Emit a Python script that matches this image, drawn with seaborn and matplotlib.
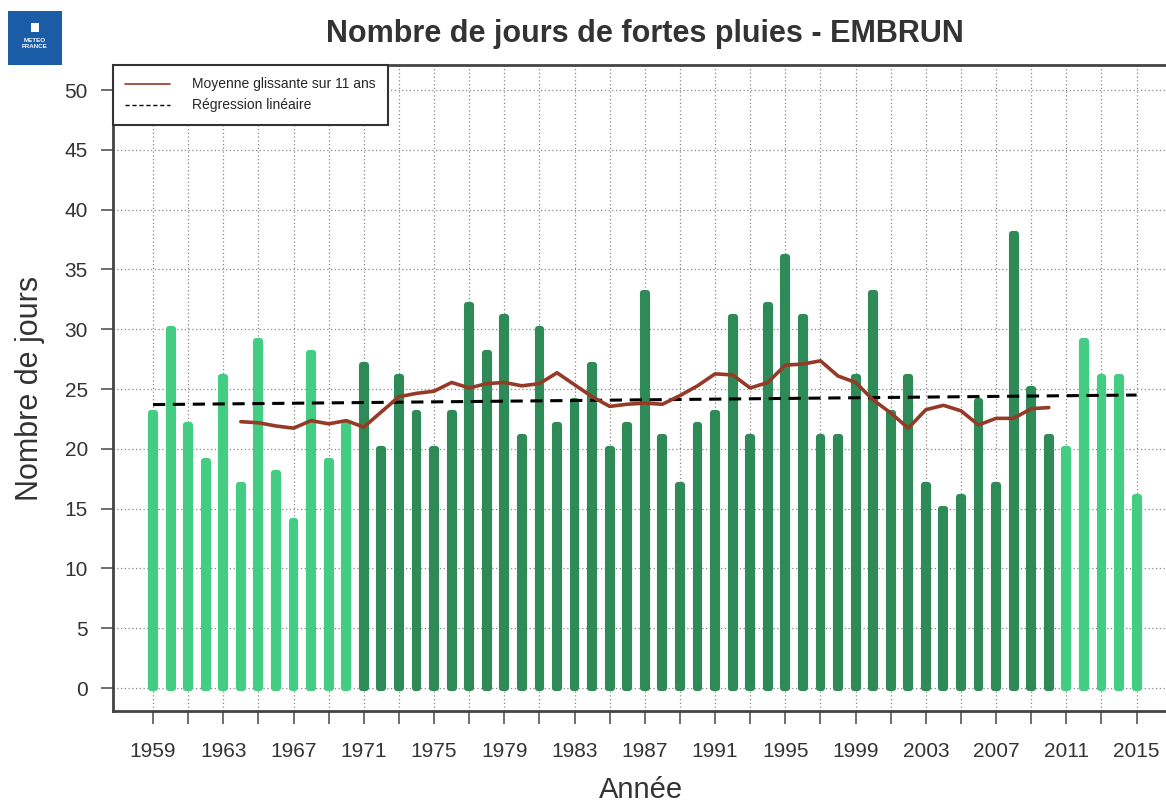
import matplotlib
matplotlib.use("Agg")
import matplotlib.pyplot as plt
from matplotlib.lines import Line2D
from matplotlib.patches import Rectangle
import seaborn as sns
import pandas as pd

# data
years = list(range(1959, 2016))
days = [23, 30, 22, 19, 26, 17, 29, 18, 14, 28, 19, 22,
        27, 20, 26, 23, 20, 23, 32, 28, 31, 21, 30, 22, 24, 27, 20, 22,
        33, 21, 17, 22, 23, 31, 21, 32, 36, 31, 21, 21, 26, 33, 23, 26,
        17, 15, 16, 24, 17, 38, 25, 21,
        20, 29, 26, 26, 16]
period = ["hors normale"] * 12 + ["normale"] * 40 + ["hors normale"] * 5
ma_years = list(range(1964, 2011))
ma_values = [22.27, 22.18, 21.91, 21.73, 22.36, 22.09, 22.36, 21.82, 23.09, 24.36,
             24.64, 24.82, 25.55, 25.09, 25.45, 25.55, 25.27, 25.45, 26.36, 25.36,
             24.36, 23.55, 23.73, 23.82, 23.73, 24.45, 25.27, 26.27, 26.18, 25.09,
             25.55, 27.0, 27.09, 27.36, 26.09, 25.55, 24.09, 23.0, 21.73, 23.27,
             23.64, 23.18, 22.0, 22.55, 22.55, 23.36, 23.45]
reg_years = [1959, 2015]
reg_values = [23.7, 24.5]

light_green = "#43cd82"
dark_green = "#2e8b57"
ma_color = "#963a28"
txt = "#333333"

sns.set_style("white")
plt.rcParams['font.family'] = ['Liberation Sans', 'DejaVu Sans']

df = pd.DataFrame({"year": years, "days": days, "period": period})

fig = plt.figure(figsize=(11.66, 8.06), dpi=100)
ax = fig.add_axes([0.0969, 0.1179, 0.905, 0.8015])

sns.barplot(data=df, x="year", y="days", hue="period", native_scale=True,
            palette={"hors normale": light_green, "normale": dark_green},
            saturation=1, dodge=False, width=0.22, legend=False, ax=ax, zorder=3)
# thick round edges to mimic R's rounded "h" bars
for p in ax.patches:
    p.set_edgecolor(p.get_facecolor())
    p.set_linewidth(4.4)
    p.set_joinstyle("round")

sns.lineplot(x=reg_years, y=reg_values, color="black", lw=2.2,
             linestyle=(0, (4, 2.5)), ax=ax, zorder=4)
sns.lineplot(x=ma_years, y=ma_values, color=ma_color, lw=2.6, ax=ax, zorder=5)

ax.set_xlim(1956.72, 2016.8)
ax.set_ylim(-1.92, 52.1)
ax.set_yticks(range(0, 51, 5))
ax.set_xticks(range(1959, 2016, 2))
ax.set_xticklabels([str(y) if (y - 1959) % 4 == 0 else "" for y in range(1959, 2016, 2)])
ax.grid(True, color="#888888", linestyle=(0, (1, 2)), linewidth=0.9, zorder=0)
ax.set_axisbelow(True)
ax.tick_params(axis="both", bottom=True, left=True, colors="#555555", labelcolor=txt,
               labelsize=15, length=9, width=1.2, direction="out", pad=9)
ax.tick_params(axis="x", pad=13)
for side in ["left", "bottom", "top"]:
    ax.spines[side].set_color("#444444")
    ax.spines[side].set_linewidth(2)
ax.spines["right"].set_visible(False)

ax.set_xlabel("Année", fontsize=21, color=txt, labelpad=11)
ax.set_ylabel("Nombre de jours", fontsize=22, color=txt, labelpad=14)
fig.suptitle("Nombre de jours de fortes pluies - EMBRUN", x=0.553, y=0.977,
             fontsize=22, fontweight="bold", color=txt)

handles = [Line2D([], [], color=ma_color, lw=1.2),
           Line2D([], [], color="black", lw=1.0, linestyle=(0, (3, 2)))]
leg = ax.legend(handles, ["Moyenne glissante sur 11 ans", "Régression linéaire"],
                loc="upper left", borderaxespad=0, fontsize=10, fancybox=False,
                framealpha=1, edgecolor="#333333", handlelength=3.2,
                borderpad=0.9, labelspacing=0.5, handletextpad=1.6)
leg.get_frame().set_linewidth(1.5)
leg.set_zorder(10)

# Meteo France logo
lax = fig.add_axes([8 / 1166, 1 - 65 / 806, 54 / 1166, 54 / 806])
lax.add_patch(Rectangle((0, 0), 1, 1, color="#1a5ca6"))
lax.text(0.5, 0.40, "METEO\nFRANCE", color="white", fontsize=4.5, fontweight="bold",
         ha="center", va="center", linespacing=1.1)
lax.add_patch(Rectangle((0.42, 0.62), 0.16, 0.16, facecolor="white", edgecolor="none"))
lax.set_xlim(0, 1)
lax.set_ylim(0, 1)
lax.axis("off")

fig.savefig("out.png", dpi=100)
